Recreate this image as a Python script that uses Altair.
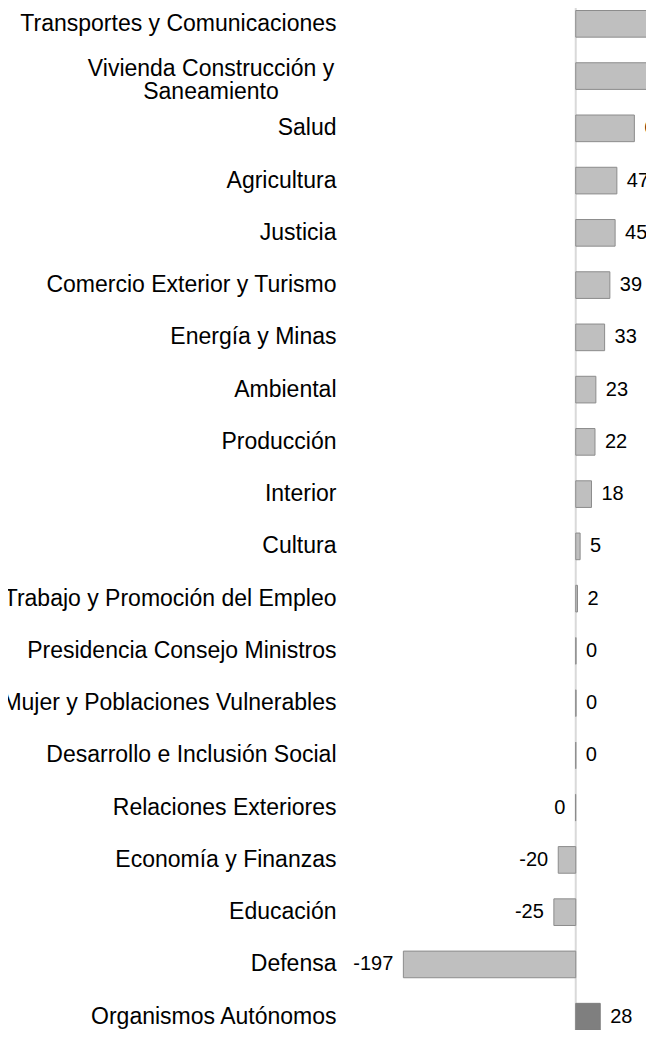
import altair as alt
import pandas as pd

categorias = [
    "Transportes y Comunicaciones",
    "Vivienda Construcción y\nSaneamiento",
    "Salud",
    "Agricultura",
    "Justicia",
    "Comercio Exterior y Turismo",
    "Energía y Minas",
    "Ambiental",
    "Producción",
    "Interior",
    "Cultura",
    "Trabajo y Promoción del Empleo",
    "Presidencia Consejo Ministros",
    "Mujer y Poblaciones Vulnerables",
    "Desarrollo e Inclusión Social",
    "Relaciones Exteriores",
    "Economía y Finanzas",
    "Educación",
    "Defensa",
    "Organismos Autónomos",
]
valores = [150, 120, 67, 47, 45, 39, 33, 23, 22, 18, 5, 2, 0.3, 0.3, 0, -0.3, -20, -25, -197, 28]
etiquetas = ["150", "120", "67", "47", "45", "39", "33", "23", "22", "18", "5", "2",
             "0", "0", "0", "0", "-20", "-25", "-197", "28"]

df = pd.DataFrame({"categoria": categorias, "valor": valores, "etiqueta": etiquetas})

FONT = "Liberation Sans"
XDOM = [-266, 80.3]

xenc = alt.X("valor:Q", axis=None,
             scale=alt.Scale(domain=XDOM, nice=False, zero=False))
yenc = alt.Y("categoria:N", sort=categorias, title=None,
             scale=alt.Scale(range=[2.5, 1022], paddingInner=0.49, paddingOuter=0),
             axis=alt.Axis(ticks=False, domain=False, labelAlign="right",
                           labelBaseline="middle", labelFont=FONT, labelFontSize=23,
                           labelColor="#000000", labelPadding=7, labelLimit=1000,
                           grid=False,
                           labelExpr="indexof(datum.value, 'Saneamiento') >= 0 ? '' : datum.label"))

base = alt.Chart(df)

regla = alt.Chart(pd.DataFrame({"cero": [0]})).mark_rule(
    color="#d9d9d9", strokeWidth=2
).encode(
    x=alt.X("cero:Q", axis=None, scale=alt.Scale(domain=XDOM, nice=False, zero=False)),
    y=alt.value(0), y2=alt.value(1022)
)

es_org = alt.datum.categoria == "Organismos Autónomos"

barras = base.mark_bar(strokeWidth=1).encode(
    x=xenc,
    x2=alt.datum(0),
    y=yenc,
    fill=alt.condition(es_org, alt.value("#7f7f7f"), alt.value("#bfbfbf")),
    stroke=alt.condition(es_org, alt.value("#7f7f7f"), alt.value("#8c8c8c")),
)

txt_pos = base.transform_filter(alt.datum.valor >= 0).mark_text(
    align="left", baseline="middle", dx=10, font=FONT, fontSize=20, color="#000000"
).encode(x=xenc, y=yenc, text="etiqueta:N")

txt_neg = base.transform_filter(alt.datum.valor < 0).mark_text(
    align="right", baseline="middle", dx=-10, font=FONT, fontSize=20, color="#000000"
).encode(x=xenc, y=yenc, text="etiqueta:N")

viv = base.transform_filter("indexof(datum.categoria, 'Saneamiento') >= 0").mark_text(
    align="center", baseline="middle", lineBreak="\n", lineHeight=22.5, dy=-7,
    font=FONT, fontSize=23, color="#000000"
).encode(x=alt.value(-132), y=yenc, text="categoria:N")

chart = alt.layer(regla, barras, txt_pos, txt_neg, viv).properties(
    width=303, height=1022,
    autosize=alt.AutoSizeParams(type="none"),
    padding={"left": 335, "top": 0, "right": 0, "bottom": 0},
).configure_view(stroke=None)

chart.save("out.html", embed_options={"renderer": "svg", "actions": False})
